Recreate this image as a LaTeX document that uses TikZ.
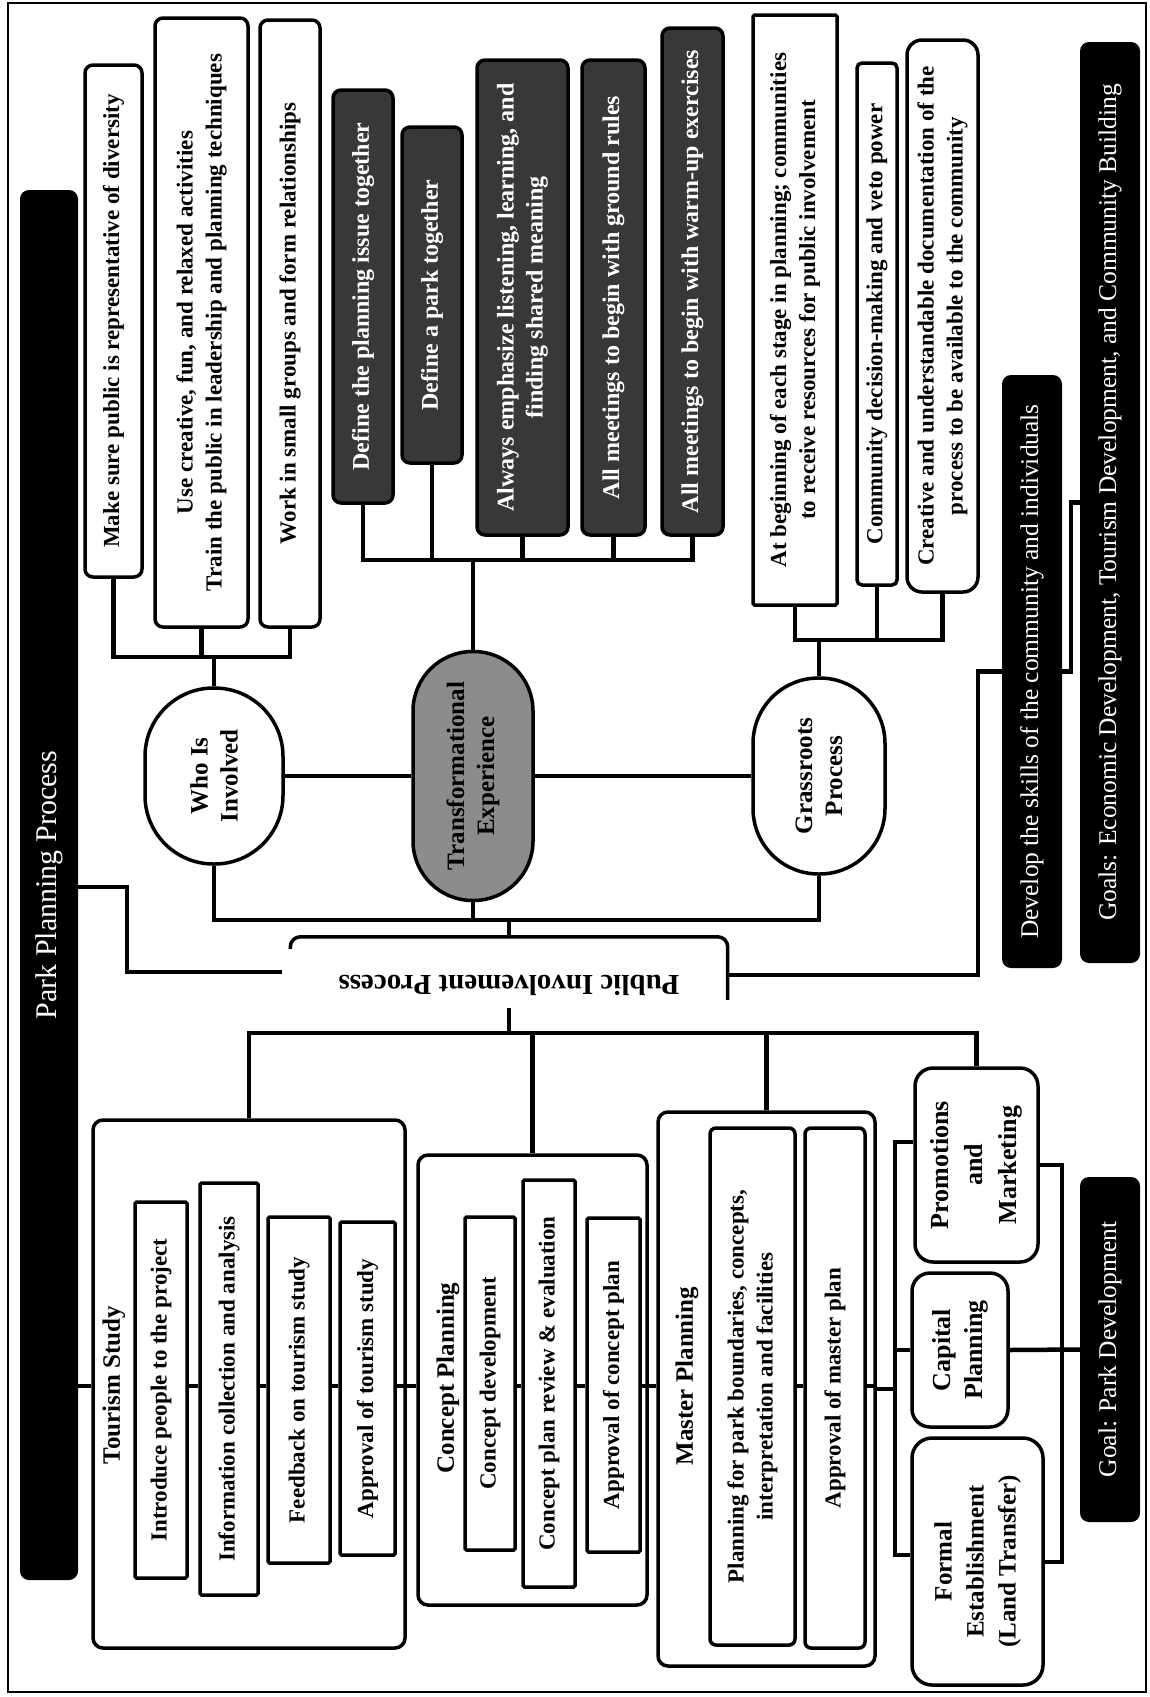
\documentclass[tikz,border=0pt]{standalone}
\usepackage{fontspec}
\usepackage{graphicx}
\setmainfont{Liberation Serif}
\usetikzlibrary{calc}

\tikzset{
  conn/.style={line width=4.5pt},
  itembox/.style={draw,line width=3.5pt,rounded corners=1.5pt,fill=white,rotate=90,
    inner sep=0pt,align=center,font=\bfseries\fontsize{23}{29}\selectfont},
  softbox/.style={itembox,rounded corners=8pt},
  darkbox/.style={softbox,fill=black!78,text=white,font=\bfseries\fontsize{24}{29}\selectfont},
  groupbox/.style={draw,line width=3.5pt,rounded corners=10pt,rotate=90,inner sep=0pt},
  grouptitle/.style={rotate=90,inner sep=0pt,font=\bfseries\fontsize{25}{30}\selectfont},
  pill/.style={draw,line width=3.5pt,fill=white,rotate=90,inner sep=0pt,align=center,
    font=\bfseries\fontsize{25}{30}\selectfont},
  goalbar/.style={fill=black,text=white,rounded corners=9pt,rotate=90,inner sep=0pt,
    font=\fontsize{25.5}{30}\selectfont},
}

\begin{document}
\begin{tikzpicture}[x=1pt,y=-1pt]
\useasboundingbox (0,0) rectangle (1149,1697);
\draw[line width=2pt] (8,3) rectangle (1146,1692);

% black bars
\node[goalbar,minimum width=1390pt,minimum height=58pt,font=\fontsize{30}{36}\selectfont]
  (title) at (49,885) {Park Planning Process};
\node[goalbar,minimum width=593pt,minimum height=60pt]
  (dev) at (1032,671.5) {Develop the skills of the community and individuals};
\node[goalbar,minimum width=921pt,minimum height=60pt]
  (goals) at (1110,502.5) {Goals: Economic Development, Tourism Development, and Community Building};
\node[goalbar,minimum width=345pt,minimum height=60pt]
  (pgoal) at (1110,1349.5) {Goal: Park Development};

% public involvement
\node[inner sep=0pt,minimum width=437pt,minimum height=96pt,font=\bfseries\fontsize{29}{34}\selectfont]
  (pib) at (509,985) {\rotatebox{180}{Public Involvement Process}};
\draw[line width=3.5pt,rounded corners=10pt] ([yshift=-12pt]pib.north west) -- (pib.north west)
  -- (pib.north east) -- ([yshift=-63pt]pib.north east);
\coordinate (pibl) at (282,972);

% three ovals
\node[pill,minimum width=176pt,minimum height=138pt,rounded corners=68.5pt]
  (who) at (214,776) {Who Is\\Involved};
\node[pill,minimum width=249pt,minimum height=120pt,rounded corners=59.5pt,fill=black!45]
  (trans) at (473,776) {Transformational\\Experience};
\node[pill,minimum width=196pt,minimum height=132pt,rounded corners=65.5pt]
  (grass) at (819,776) {Grassroots\\Process};

% who is involved
\node[softbox,minimum width=512pt,minimum height=57pt] (make) at (113.5,321)
  {Make sure public is representative of diversity};
\node[softbox,minimum width=609pt,minimum height=93pt] (creative) at (201.5,322.5)
  {Use creative, fun, and relaxed activities\\Train the public in leadership and planning techniques};
\node[softbox,minimum width=607pt,minimum height=60pt] (work) at (290,323.5)
  {Work in small groups and form relationships};

% transformational experience
\node[darkbox,minimum width=413pt,minimum height=60pt] (issue) at (363,296.5)
  {Define the planning issue together};
\node[darkbox,minimum width=336pt,minimum height=60pt] (park) at (432,295)
  {Define a park together};
\node[darkbox,minimum width=475pt,minimum height=91pt] (emph) at (522.5,297.5)
  {Always emphasize listening, learning, and\\finding shared meaning};
\node[darkbox,minimum width=475pt,minimum height=63pt] (rules) at (613.5,297.5)
  {All meetings to begin with ground rules};
\node[darkbox,minimum width=507pt,minimum height=61pt] (warm) at (692.5,281.5)
  {All meetings to begin with warm-up exercises};

% grassroots process
\node[itembox,minimum width=590pt,minimum height=84pt] (begin) at (795,310)
  {At beginning of each stage in planning; communities\\to receive resources for public involvement};
\node[softbox,rounded corners=5pt,minimum width=522pt,minimum height=40pt] (veto) at (877,324)
  {Community decision-making and veto power};
\node[softbox,rounded corners=15pt,minimum width=552pt,minimum height=71pt] (doc) at (942.5,316)
  {Creative and understandable documentation of the\\process to be available to the community};

% planning stages
\node[groupbox,minimum width=528pt,minimum height=312pt] (tour) at (249,1384) {};
\node[grouptitle] (tourt) at (114,1385) {Tourism Study};
\node[itembox,minimum width=376pt,minimum height=52pt] (intro) at (161,1390) {Introduce people to the project};
\node[itembox,minimum width=412pt,minimum height=58pt] (info) at (229,1389) {Information collection and analysis};
\node[itembox,minimum width=346pt,minimum height=62pt] (feed) at (299,1390) {Feedback on tourism study};
\node[itembox,minimum width=333pt,minimum height=55pt] (appt) at (367.5,1388.5) {Approval of tourism study};

\node[groupbox,minimum width=450pt,minimum height=229pt] (conc) at (532.5,1380) {};
\node[grouptitle] (conct) at (448,1378) {Concept Planning};
\node[itembox,minimum width=333pt,minimum height=50pt] (cdev) at (490,1383.5) {Concept development};
\node[itembox,minimum width=407pt,minimum height=52pt] (crev) at (549,1383.5) {Concept plan review \& evaluation};
\node[itembox,minimum width=334pt,minimum height=53pt] (capp) at (613.5,1385) {Approval of concept plan};

\node[groupbox,minimum width=554pt,minimum height=217pt] (mast) at (766.5,1389) {};
\node[grouptitle] (mastt) at (687,1376) {Master Planning};
\node[softbox,rounded corners=6pt,minimum width=517pt,minimum height=85pt] (mpl) at (752.5,1386.5)
  {Planning for park boundaries, concepts,\\interpretation and facilities};
\node[softbox,rounded corners=6pt,minimum width=520pt,minimum height=60pt] (mapp) at (835,1388)
  {Approval of master plan};

% park development
\node[pill,rounded corners=18pt,minimum width=194pt,minimum height=123pt,font=\bfseries\fontsize{26}{34}\selectfont]
  (promo) at (976.5,1165) {Promotions\\and\\Marketing};
\node[pill,rounded corners=18pt,minimum width=154pt,minimum height=96pt,font=\bfseries\fontsize{26}{32}\selectfont]
  (cap) at (960,1350) {Capital\\Planning};
\node[pill,rounded corners=20pt,minimum width=247pt,minimum height=131pt,font=\bfseries\fontsize{25}{32}\selectfont]
  (formal) at (977.5,1561.5) {Formal\\Establishment\\(Land Transfer)};

% connectors
\draw[conn] (who.south) -- (trans.north);
\draw[conn] (trans.south) -- (grass.north);

\draw[conn] (who.east) -- (who.east |- 0,657);
\draw[conn] (make.west) |- (who.east |- 0,657) -| (work.west);
\draw[conn] (creative.west) -- (creative.west |- 0,657);

\draw[conn] (trans.east) -- (trans.east |- 0,560);
\draw[conn] (issue.west) |- (warm.west |- 0,560) -- (warm.west);
\foreach \n in {park,emph,rules}
  \draw[conn] (\n.west) -- (\n.west |- 0,560);

\draw[conn] (grass.east) -- (grass.east |- 0,640);
\draw[conn] (begin.west) |- (doc.west |- 0,640) -- (doc.west);
\draw[conn] (veto.west) -- (veto.west |- 0,640);

\draw[conn] (who.west) |- (grass.west |- 0,920) -- (grass.west);
\draw[conn] (trans.west) -- (trans.west |- 0,920);
\draw[conn] (pib.north) -- (pib.north |- 0,920);

\draw[conn] (pib.south) -- ([yshift=25pt]pib.south);
\draw[conn] (tour.east) |- (promo.east |- pib.south) -- (promo.east);
\draw[conn] (conc.east) -- (conc.east |- pib.south);
\draw[conn] (mast.east) -- (mast.east |- pib.south);

\draw[conn] (title.south |- 0,887) -| (127,972) -- (pibl);
\draw[conn] (pib.east |- 0,975) -- (978,975) |- (dev.north);
\draw[conn] (dev.south) -- ++(9,0) |- (goals.north);

\coordinate (chain) at (0,1386);
\foreach \a/\b in {title/tour,intro/info,info/feed,feed/appt,tour/conc,cdev/crev,crev/capp,conc/mast,mpl/mapp}
  \draw[conn] (\a.south |- chain) -- (\b.north |- chain);
\foreach \a/\b in {appt/tour,capp/conc,mapp/mast}
  \draw[conn] (\a.south |- chain) -- (\b.south |- chain);

\draw[conn] (mast.south) -- (mast.south -| 895,0);
\draw[conn] (promo.north |- 0,1142) -- (895,1142) |- (formal.north |- 0,1555);
\draw[conn] (cap.north) -- (cap.north -| 895,0);
\draw[conn] (promo.south) -- (1062,1165) |- (formal.south |- 0,1562);
\draw[conn] (cap.south) -- (pgoal.north);
\end{tikzpicture}
\end{document}
